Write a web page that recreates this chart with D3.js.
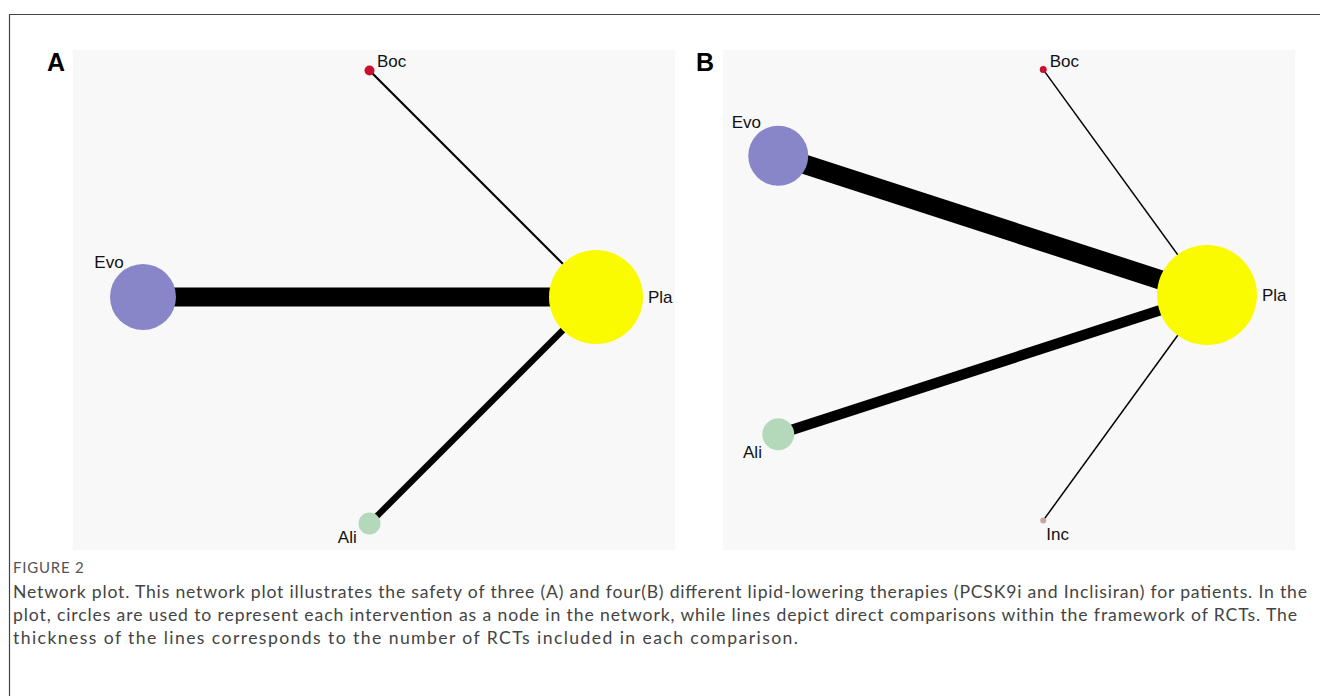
<!DOCTYPE html>
<html>
<head>
<meta charset="utf-8">
<script src="https://cdn.jsdelivr.net/npm/d3@7"></script>
<style>
  body { margin: 0; background: #fff; }
  svg { display: block; }
  .node-label { font-family: "Liberation Sans", Arial, sans-serif; font-size: 17px; fill: #111; }
  .panel-tag { font-family: "Liberation Sans", Arial, sans-serif; font-size: 25px; font-weight: bold; fill: #000; }
  .fig-title { font-family: Lato, "Open Sans", sans-serif; font-size: 15px; fill: #555; letter-spacing: 0.3px; }
  .fig-text { font-family: Lato, "Open Sans", sans-serif; font-size: 17.6px; fill: #444; }
</style>
</head>
<body>
<svg id="fig" width="1320" height="696"></svg>
<script>
// panel A: three therapies vs placebo
var treatmentsA = ["Pla", "Boc", "Evo", "Ali"];
var nodeSizeA = [47, 5, 33, 11];
var comparedA = ["Evo", "Boc", "Ali"];
var studiesA = [9, 1, 3];

// panel B: four therapies vs placebo
var treatmentsB = ["Pla", "Boc", "Evo", "Ali", "Inc"];
var nodeSizeB = [50, 3.5, 30, 16, 3];
var comparedB = ["Evo", "Boc", "Ali", "Inc"];
var studiesB = [13, 1, 7, 1];

var captionTitle = "FIGURE 2";
var captionLines = [
    "Network plot. This network plot illustrates the safety of three (A) and four(B) different lipid-lowering therapies (PCSK9i and Inclisiran) for patients. In the",
    "plot, circles are used to represent each intervention as a node in the network, while lines depict direct comparisons within the framework of RCTs. The",
    "thickness of the lines corresponds to the number of RCTs included in each comparison."
];

var colors = {
    Pla: "#fbfb00",
    Evo: "#8985c9",
    Ali: "#b4d9ba",
    Boc: "#c8102e",
    Inc: "#c9a3a3"
};
// side of the node where the name goes
var labelSide = {
    A: { Pla: "e", Boc: "ne", Evo: "nw", Ali: "sw" },
    B: { Pla: "e", Boc: "ne", Evo: "nw", Ali: "sw", Inc: "se" }
};

var svg = d3.select("#fig");

// frame
svg.append("path")
    .attr("d", "M9.5,696V14.5H1320")
    .attr("fill", "none")
    .attr("stroke", "#444")
    .attr("stroke-width", 1.2)
;

var drawPanel = function (opt) {
    var g = svg.append("g");
    g.append("rect")
        .attr("x", opt.bg[0]).attr("y", opt.bg[1])
        .attr("width", opt.bg[2]).attr("height", opt.bg[3])
        .attr("fill", "#f8f8f8")
    ;
    g.append("text")
        .attr("class", "panel-tag")
        .attr("x", opt.tag[0]).attr("y", opt.tag[1])
        .text(opt.name)
    ;

    var n = opt.treatments.length;
    var xs = d3.scaleLinear().domain([-1, 1]).range([opt.cx - opt.R, opt.cx + opt.R]);
    var ys = d3.scaleLinear().domain([-1, 1]).range([opt.cy + opt.R, opt.cy - opt.R]);
    var rs = d3.scaleLinear().domain([0, 1]).range([0, 1]);
    var ws = d3.scaleLinear().domain([0, 1]).range([0, opt.unitWidth]);

    var nodes = opt.treatments.map(function (t, i) {
        var a = 2 * Math.PI * i / n;
        return { id: t, a: a, x: xs(Math.cos(a)), y: ys(Math.sin(a)), r: rs(opt.sizes[i]) };
    });
    var byId = {};
    nodes.forEach(function (d) { byId[d.id] = d; });

    var edges = opt.compared.map(function (t, i) {
        return { source: byId[t], target: byId[opt.treatments[0]], k: opt.studies[i] };
    });

    g.selectAll("line.edge")
        .data(edges)
        .enter()
        .append("line")
        .attr("class", "edge")
        .attr("x1", function (d) { return d.source.x; })
        .attr("y1", function (d) { return d.source.y; })
        .attr("x2", function (d) { return d.target.x; })
        .attr("y2", function (d) { return d.target.y; })
        .attr("stroke", "#000")
        .attr("stroke-width", function (d) { return ws(d.k); })
    ;

    g.selectAll("circle.node")
        .data(nodes)
        .enter()
        .append("circle")
        .attr("class", "node")
        .attr("cx", function (d) { return d.x; })
        .attr("cy", function (d) { return d.y; })
        .attr("r", function (d) { return d.r; })
        .attr("fill", function (d) { return colors[d.id]; })
    ;

    g.selectAll("text.node-label")
        .data(nodes)
        .enter()
        .append("text")
        .attr("class", "node-label")
        .each(function (d) {
            var side = labelSide[opt.name][d.id];
            var dg = d.r * Math.SQRT1_2;
            var t = d3.select(this);
            if (side === "e") {
                t.attr("x", d.x + d.r + 5).attr("y", d.y + 6).attr("text-anchor", "start");
            } else if (side === "ne") {
                t.attr("x", d.x + dg + 4).attr("y", d.y - dg).attr("text-anchor", "start");
            } else if (side === "nw") {
                t.attr("x", d.x - dg + 4).attr("y", d.y - dg - 6).attr("text-anchor", "end");
            } else if (side === "sw") {
                t.attr("x", d.x - dg - 5).attr("y", d.y + dg + 12).attr("text-anchor", "end");
            } else {
                t.attr("x", d.x + dg + 1).attr("y", d.y + dg + 17).attr("text-anchor", "start");
            }
        })
        .text(function (d) { return d.id; })
    ;
};

drawPanel({
    name: "A",
    treatments: treatmentsA, sizes: nodeSizeA, compared: comparedA, studies: studiesA,
    bg: [73, 50, 602, 500], tag: [47, 71],
    cx: 369.5, cy: 297, R: 226.5, unitWidth: 2.1
});
drawPanel({
    name: "B",
    treatments: treatmentsB, sizes: nodeSizeB, compared: comparedB, studies: studiesB,
    bg: [723, 50, 572, 500], tag: [696, 71],
    cx: 970, cy: 295, R: 237, unitWidth: 1.5
});

// caption
svg.append("text")
    .attr("class", "fig-title")
    .attr("x", 13).attr("y", 573)
    .attr("textLength", 71)
    .attr("lengthAdjust", "spacing")
    .text(captionTitle)
;
var lineEnds = [1307, 1297, 798];
svg.selectAll("text.fig-text")
    .data(captionLines)
    .enter()
    .append("text")
    .attr("class", "fig-text")
    .attr("x", 13)
    .attr("y", function (d, i) { return 598 + i * 23; })
    .attr("textLength", function (d, i) { return lineEnds[i] - 13; })
    .attr("lengthAdjust", "spacing")
    .text(function (d) { return d; })
;
</script>
</body>
</html>
